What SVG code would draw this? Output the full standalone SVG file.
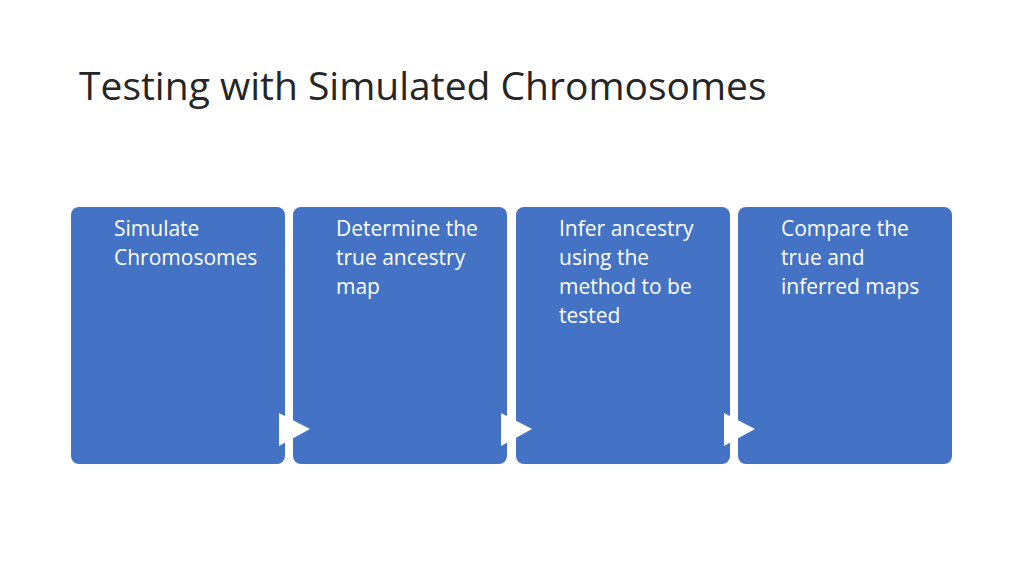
<svg xmlns="http://www.w3.org/2000/svg" width="1024" height="576" viewBox="0 0 1024 576">
<style>
.box{fill:#4472C4;}
.t{font-family:"Open Sans","Liberation Sans",sans-serif;font-size:21px;fill:#fff;}
.title{font-family:"Open Sans","Liberation Sans",sans-serif;font-size:39px;fill:#262626;}
.arr{fill:#fff;}
</style>
<rect width="1024" height="576" fill="#fff"/>
<text class="title" x="79" y="100">Testing with Simulated Chromosomes</text>
<g id="n1"><rect class="box" x="71" y="207" width="214" height="257" rx="8"/>
<text class="t" x="114" y="236">Simulate</text><text class="t" x="114" y="265">Chromosomes</text></g>
<g id="n2"><rect class="box" x="293" y="207" width="214" height="257" rx="8"/>
<text class="t" x="336" y="236">Determine the</text><text class="t" x="336" y="265">true ancestry</text><text class="t" x="336" y="294">map</text></g>
<g id="n3"><rect class="box" x="516" y="207" width="214" height="257" rx="8"/>
<text class="t" x="559" y="236">Infer ancestry</text><text class="t" x="559" y="265">using the</text><text class="t" x="559" y="294">method to be</text><text class="t" x="559" y="323">tested</text></g>
<g id="n4"><rect class="box" x="738" y="207" width="214" height="257" rx="8"/>
<text class="t" x="781" y="236">Compare the</text><text class="t" x="781" y="265">true and</text><text class="t" x="781" y="294">inferred maps</text></g>
<g id="connectors">
<polygon class="arr" points="279,413 310,429 279,446"/>
<polygon class="arr" points="501,413 532,429 501,446"/>
<polygon class="arr" points="724,413 755,429 724,446"/>
</g>
</svg>
